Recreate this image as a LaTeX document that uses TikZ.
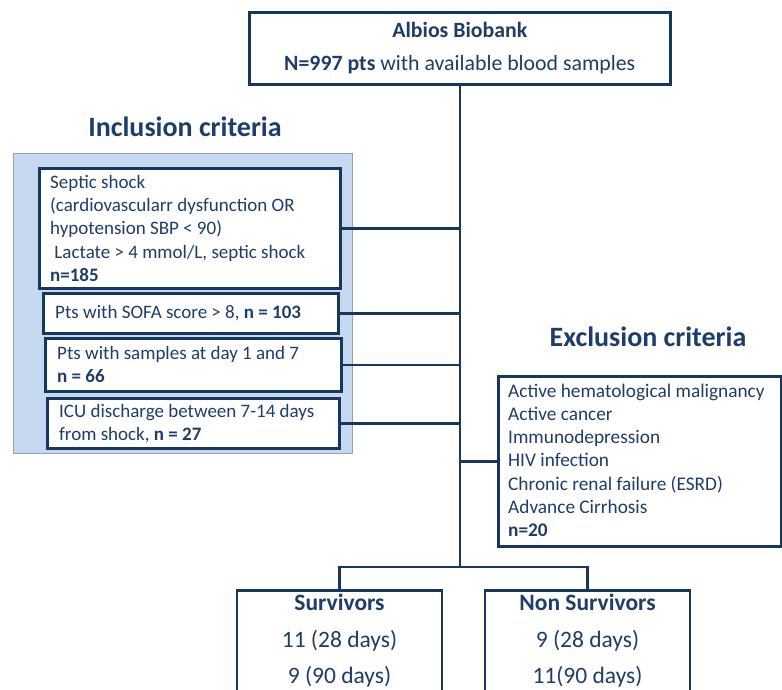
\documentclass[tikz,border=0pt]{standalone}
\usepackage{fontspec}
\setmainfont{Carlito}
\definecolor{navy}{HTML}{1F3D6B}
\definecolor{linec}{HTML}{17375E}
\definecolor{panelfill}{HTML}{C6D9F1}
\definecolor{paneldraw}{HTML}{8EA3BF}
\begin{document}
\begin{tikzpicture}[x=1pt,y=-1pt,
  box/.style={draw=linec, line width=2.6pt, fill=white, anchor=north west, inner sep=0pt},
  txt/.style={text=navy, align=left, anchor=west, inner sep=0pt},
  conn/.style={draw=linec, line width=2.6pt},
  head/.style={text=navy, font=\fontsize{28}{32}\selectfont\bfseries}
]
\clip (0,0) rectangle (782,689);
\fill[white] (0,0) rectangle (782,689);

% top box
\node[box, minimum width=421pt, minimum height=72pt] (top) at (248,11) {};
\node[text=navy, align=center, inner sep=0pt, font=\fontsize{21.8}{33}\selectfont] (topt) at (top.center)
  {\textbf{Albios Biobank}\\\textbf{N=997 pts} with available blood samples};

% inclusion
\node[head] (inchead) at (185,127) {Inclusion criteria};
\node[draw=paneldraw, fill=panelfill, line width=1.2pt, anchor=north west, minimum width=339pt, minimum height=300pt, inner sep=0pt] (panel) at (13,153) {};

\node[box, minimum width=301pt, minimum height=120pt] (b1) at (38,167) {};
\node[txt, font=\fontsize{19}{23.3}\selectfont] (b1t) at ([xshift=12pt]b1.west)
  {Septic shock\\(cardiovascularr dysfunction OR\\hypotension SBP < 90)\\\ Lactate > 4 mmol/L, septic shock\\\textbf{n=185}};
\node[box, minimum width=295pt, minimum height=40pt] (b2) at (42,292) {};
\node[txt, font=\fontsize{19}{23.3}\selectfont] (b2t) at ([xshift=13pt]b2.west)
  {Pts with SOFA score > 8, \textbf{n = 103}};
\node[box, minimum width=296pt, minimum height=53pt] (b3) at (44,337) {};
\node[txt, font=\fontsize{19}{23.3}\selectfont] (b3t) at ([xshift=13pt]b3.west)
  {Pts with samples at day 1 and 7\\\textbf{n = 66}};
\node[box, minimum width=292pt, minimum height=50pt] (b4) at (46,397) {};
\node[txt, font=\fontsize{19}{23.3}\selectfont] (b4t) at ([xshift=13pt]b4.west)
  {ICU discharge between 7-14 days\\from shock, \textbf{n = 27}};

% exclusion
\node[head] (exhead) at (648,337) {Exclusion criteria};
\node[box, minimum width=283pt, minimum height=170pt] (ex) at (497,375) {};
\node[txt, font=\fontsize{19.3}{23.3}\selectfont] (ext) at ([xshift=11pt,yshift=1pt]ex.west)
  {Active hematological malignancy\\Active cancer\\Immunodepression\\HIV infection\\Chronic renal failure (ESRD)\\Advance Cirrhosis\\\textbf{n=20}};

% bottom boxes
\node[box, minimum width=205pt, minimum height=130pt, anchor=north] (surv) at (339.5,589) {};
\node[box, minimum width=205pt, minimum height=130pt, anchor=north] (nons) at (587.5,589) {};
\node[text=navy, font=\fontsize{23.5}{36.5}\selectfont, align=center, anchor=north, inner sep=0pt] (survt) at (339.5,594)
  {\textbf{Survivors}\\11 (28 days)\\9 (90 days)};
\node[text=navy, font=\fontsize{23.5}{36.5}\selectfont, align=center, anchor=north, inner sep=0pt] (nonst) at (587.5,594)
  {\textbf{Non Survivors}\\9 (28 days)\\11(90 days)};

% connectors
\coordinate (spineend) at (top.south |- 0,567);
\draw[conn] (top.south) -- (spineend);
\draw[conn] (b1.east) -- (b1.east -| top.south);
\draw[conn] (b2.east) -- (b2.east -| top.south);
\draw[conn] (b3.east) -- (b3.east -| top.south);
\draw[conn] (b4.east) -- (b4.east -| top.south);
\draw[conn] (ex.west) -- (ex.west -| top.south);
\draw[conn, line join=miter] (surv.north) -- (surv.north |- spineend) -- (nons.north |- spineend) -- (nons.north);
\end{tikzpicture}
\end{document}
